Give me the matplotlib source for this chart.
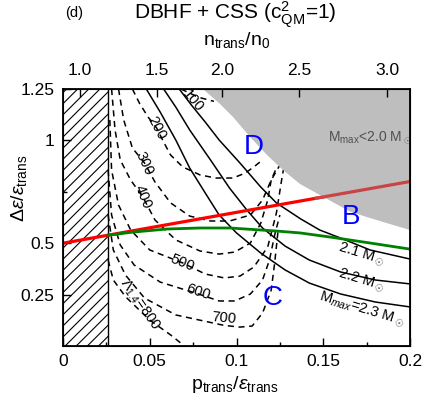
import matplotlib
matplotlib.use("Agg")
import matplotlib.pyplot as plt
from matplotlib.ticker import FixedLocator, MultipleLocator
import numpy as np

plt.rcParams['font.family'] = ['Liberation Sans', 'DejaVu Sans']
plt.rcParams['mathtext.fontset'] = 'custom'
plt.rcParams['mathtext.rm'] = 'Liberation Sans'
plt.rcParams['mathtext.it'] = 'Liberation Sans:italic'
plt.rcParams['hatch.linewidth'] = 0.8

# ---------------- data (p_trans/eps_trans , Delta eps/eps_trans) -------------
hatch_edge = 0.026

# M_max < 2.0 region boundary
gray_p = [0.0807, 0.0905, 0.0980, 0.1078, 0.1176, 0.1268, 0.1366, 0.1481, 0.1654, 0.1752, 0.1885, 0.200]
gray_y = [1.250, 1.177, 1.114, 1.017, 0.929, 0.856, 0.788, 0.734, 0.654, 0.627, 0.593, 0.564]

# Seidov line
red_p = [0.0, 0.2]
red_y = [0.5, 0.8]
red_in_gray_p = [0.145, 0.2]
red_in_gray_y = [0.7175, 0.8]

# green curve
green_p = [0.026, 0.0403, 0.0599, 0.0790, 0.0963, 0.1233, 0.1366, 0.1539, 0.1769, 0.1994]
green_y = [0.539, 0.554, 0.569, 0.574, 0.574, 0.559, 0.550, 0.530, 0.501, 0.472]

# M_max contours (solid)
m21_p = [0.067, 0.074, 0.082, 0.090, 0.102, 0.114, 0.123, 0.137, 0.148, 0.160, 0.177, 0.200]
m21_y = [1.25, 1.172, 1.089, 1.002, 0.890, 0.773, 0.696, 0.618, 0.564, 0.525, 0.467, 0.423]
m22_p = [0.058, 0.065, 0.073, 0.085, 0.096, 0.106, 0.115, 0.128, 0.142, 0.160, 0.180, 0.200]
m22_y = [1.25, 1.162, 1.051, 0.905, 0.768, 0.661, 0.574, 0.486, 0.418, 0.360, 0.321, 0.302]
m23_p = [0.048, 0.056, 0.065, 0.073, 0.082, 0.090, 0.100, 0.114, 0.128, 0.142, 0.160, 0.180, 0.200]
m23_y = [1.25, 1.138, 1.002, 0.866, 0.744, 0.637, 0.550, 0.452, 0.370, 0.306, 0.253, 0.214, 0.190]

# tidal deformability contours (dashed)
l100_p = [0.068, 0.078, 0.087]
l100_y = [1.25, 1.21, 1.19]
l200_p = [0.040, 0.044, 0.049, 0.054, 0.058, 0.062, 0.069, 0.079, 0.088, 0.098, 0.105, 0.110, 0.115]
l200_y = [1.25, 1.182, 1.114, 1.060, 0.992, 0.929, 0.871, 0.832, 0.817, 0.817, 0.841, 0.871, 0.905]
l300_p = [0.032, 0.035, 0.040, 0.047, 0.053, 0.062, 0.073, 0.085, 0.096, 0.108, 0.115, 0.120, 0.125]
l300_y = [1.25, 1.099, 0.963, 0.890, 0.798, 0.696, 0.632, 0.608, 0.608, 0.637, 0.710, 0.807, 0.880]
l400_p = [0.028, 0.030, 0.033, 0.039, 0.046, 0.053, 0.065, 0.079, 0.090, 0.099, 0.108, 0.114, 0.118, 0.120, 0.123]
l400_y = [1.25, 1.051, 0.905, 0.807, 0.725, 0.613, 0.516, 0.462, 0.447, 0.457, 0.501, 0.598, 0.710, 0.807, 0.866]
l500_p = [0.027, 0.028, 0.032, 0.039, 0.050, 0.069, 0.082, 0.093, 0.102, 0.110, 0.118, 0.123, 0.126, 0.127]
l500_y = [1.099, 0.856, 0.686, 0.564, 0.467, 0.404, 0.350, 0.331, 0.340, 0.384, 0.482, 0.647, 0.807, 0.856]
l600_p = [0.026, 0.028, 0.033, 0.041, 0.056, 0.078, 0.090, 0.099, 0.108, 0.115, 0.119, 0.122, 0.125]
l600_y = [0.856, 0.637, 0.491, 0.394, 0.311, 0.253, 0.219, 0.219, 0.253, 0.321, 0.418, 0.540, 0.637]
l700_p = [0.026, 0.029, 0.036, 0.047, 0.065, 0.093, 0.102, 0.109, 0.115, 0.120, 0.122, 0.124]
l700_y = [0.637, 0.467, 0.345, 0.233, 0.151, 0.100, 0.092, 0.097, 0.160, 0.272, 0.404, 0.564]
l800_p = [0.026, 0.029, 0.036, 0.050, 0.062, 0.070]
l800_y = [0.418, 0.321, 0.240, 0.126, 0.054, 0.0]

# top axis: n_trans/n0 ticks at p positions
n_labels = ['1.0', '1.5', '2.0', '2.5', '3.0']
n_pos = [0.0098, 0.054, 0.0916, 0.136, 0.187]

x_ticks = [0, 0.05, 0.1, 0.15, 0.2]
x_ticklabels = ['0', '0.05', '0.1', '0.15', '0.2']
y_ticks = [0.25, 0.5, 1.0, 1.25]
y_ticklabels = ['0.25', '0.5', '1', '1.25']

# ---------------- figure -------------
fig = plt.figure(figsize=(4.23, 4.01), dpi=100)
ax = fig.add_axes([63/423, 1-346/401, 347/423, 257/401])
ax.set_xlim(0, 0.2)
ax.set_ylim(0, 1.25)

# hatched region
ax.fill_between([0, hatch_edge], 0, 1.25, facecolor='white', edgecolor='black',
                hatch='///', linewidth=0, zorder=1)
ax.axvline(hatch_edge, color='black', lw=1.0, zorder=3)

# red line (under gray)
ax.plot(red_p, red_y, color='#ff0000', lw=2.3, zorder=4, solid_capstyle='butt')

# contours
kw_solid = dict(color='black', lw=1.1, zorder=3)
for p_, y_ in [(m21_p, m21_y), (m22_p, m22_y), (m23_p, m23_y)]:
    ax.plot(p_, y_, **kw_solid)
kw_dash = dict(color='black', lw=1.1, ls=(0, (4, 3)), zorder=3)
for p_, y_ in [(l100_p, l100_y), (l200_p, l200_y), (l300_p, l300_y), (l400_p, l400_y),
               (l500_p, l500_y), (l600_p, l600_y), (l700_p, l700_y), (l800_p, l800_y)]:
    ax.plot(p_, y_, **kw_dash)

# gray region
gp = gray_p + [0.2]
gy = gray_y + [1.25]
ax.fill(gp, gy, color='#bebebe', lw=0, zorder=5)
ax.plot(red_in_gray_p, red_in_gray_y, color='#c94545', lw=2.3, zorder=6, solid_capstyle='butt')

ax.plot(green_p, green_y, color='#008000', lw=2.0, zorder=4)

# labels on contours
lab = dict(fontsize=10.5, ha='center', va='center', zorder=7)
ax.text(0.075, 1.19, '100', rotation=-50, **lab)
ax.text(0.054, 1.06, '200', rotation=-62, **lab)
ax.text(0.047, 0.890, '300', rotation=-65, **lab)
ax.text(0.046, 0.725, '400', rotation=-68, **lab)
ax.text(0.069, 0.404, '500', rotation=-22, **lab)
ax.text(0.078, 0.263, '600', rotation=-18, **lab)
ax.text(0.093, 0.136, '700', rotation=-5, **lab)
ax.text(0.044, 0.200, r'$\Lambda_{1.4}$=800', rotation=-55, **lab)

ax.text(0.172, 0.445, r'2.1 M$_\odot$', rotation=-17, **lab)
ax.text(0.172, 0.320, r'2.2 M$_\odot$', rotation=-17, **lab)
ax.text(0.172, 0.178, r'M$_{max}$=2.3 M$_\odot$', rotation=-17, **lab)
ax.text(0.177, 1.015, r'M$_{\rm max}$<2.0 M$_\odot$', fontsize=10, color='#505050',
        ha='center', va='center', zorder=7)

big = dict(fontsize=20, color='#0000ff', ha='center', va='center', zorder=7)
ax.text(0.110, 0.97, 'D', **big)
ax.text(0.166, 0.625, 'B', **big)
ax.text(0.121, 0.232, 'C', **big)

# ticks
ax.set_xticks(x_ticks)
ax.set_xticklabels(x_ticklabels)
ax.xaxis.set_minor_locator(MultipleLocator(0.025))
ax.set_yticks(y_ticks)
ax.set_yticklabels(y_ticklabels)
ax.yaxis.set_minor_locator(FixedLocator([0.75]))
ax.tick_params(axis='both', which='major', direction='in', length=6, width=1,
               labelsize=12.5, pad=6)
ax.tick_params(axis='both', which='minor', direction='in', length=3, width=1)
for s in ax.spines.values():
    s.set_linewidth(1.3)
    s.set_zorder(10)

axt = ax.twiny()
axt.set_xlim(ax.get_xlim())
axt.set_xticks(n_pos)
axt.set_xticklabels(n_labels)
axt.tick_params(axis='x', direction='in', length=6, width=1, labelsize=12.5, pad=8)

fig.text(0.555, 0.963, r'DBHF + CSS (c$^2_{\rm QM}$=1)', fontsize=15, ha='center', va='center')
fig.text(0.175, 0.968, '(d)', fontsize=10.5, ha='center', va='center')
fig.text(0.56, 0.900, r'n$_{\rm trans}$/n$_0$', fontsize=14, ha='center', va='center')
fig.text(0.555, 0.040, r'p$_{\rm trans}$/$\epsilon_{\rm trans}$', fontsize=14, ha='center', va='center')
fig.text(0.045, 0.53, r'$\Delta\epsilon$/$\epsilon_{\rm trans}$', fontsize=14, ha='center',
         va='center', rotation=90)

fig.savefig('out.png', dpi=100)
